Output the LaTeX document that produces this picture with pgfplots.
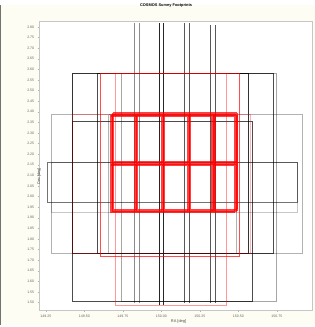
\documentclass[border=0pt]{standalone}
\usepackage{fontspec}
\setmainfont{Liberation Sans}
\usepackage{pgfplots}
\pgfplotsset{compat=1.18}
\definecolor{bgcream}{HTML}{FDFDF3}
\pgfplotsset{
 blk/.style={black, opacity=0.8, line width=0.8pt, no marks},
 gry/.style={black, opacity=0.3, line width=0.8pt, no marks},
 rd/.style={red, opacity=0.7, line width=0.8pt, no marks},
 grid/.style={red, opacity=0.75, line width=1.5pt, no marks},
}
\begin{document}
\begin{tikzpicture}
\fill[bgcream] (-40pt,-15pt) rectangle (282pt,312pt);
\fill[black!55] (-40pt,-15pt) rectangle (-38.8pt,312pt);
\begin{axis}[
 at={(0,0)}, anchor=south west, scale only axis, width=280pt, height=296pt,
 xmin=149.2059, xmax=150.9817, ymin=1.4637, ymax=2.8277,
 axis background/.style={fill=white},
 axis line style={gray!45, line width=0.4pt},
 xtick={149.25,149.50,149.75,150.00,150.25,150.50,150.75},
 ytick={1.50,1.55,1.60,1.65,1.70,1.75,1.80,1.85,1.90,1.95,2.00,2.05,2.10,2.15,2.20,2.25,2.30,2.35,2.40,2.45,2.50,2.55,2.60,2.65,2.70,2.75,2.80},
 xtick pos=bottom, ytick pos=left,
 tick align=outside, major tick length=1.5pt, tick style={gray!60, line width=0.3pt},
 tick label style={font=\fontsize{3.6}{4}\selectfont, text=black!60},
 xticklabel style={/pgf/number format/.cd, fixed, fixed zerofill, precision=2},
 yticklabel style={/pgf/number format/.cd, fixed, fixed zerofill, precision=2},
 /pgf/number format/assume math mode=true,
 title={COSMOS Survey Footprints},
 title style={font=\fontsize{4}{5}\selectfont\bfseries, at={(axis description cs:0.5,1)}, anchor=south, yshift=5pt, xshift=-10pt},
 xlabel={RA [deg]}, ylabel={Dec [deg]},
 label style={font=\fontsize{4}{5}\selectfont, text=black!70},
 xlabel style={at={(axis description cs:0.51,0)}, anchor=center, yshift=-12pt},
 ylabel style={at={(axis description cs:0,0.524)}, anchor=center, xshift=-18pt},
 unbounded coords=jump,
]
% wide gray footprints
\addplot[gry] coordinates {(149.2857,2.3868)(150.4863,2.3868)(150.4863,1.7340)(149.2857,1.7340)(149.2857,2.3868)};
\addplot[gry] coordinates {(149.6572,2.3868)(150.9166,2.3868)(150.9166,1.7340)(149.6572,1.7340)(149.6572,2.3868)};
\addplot[black, opacity=0.55, line width=0.8pt] coordinates {(149.2584,2.1610)(150.8851,2.1610)(150.8851,1.9721)(149.2584,1.9721)(149.2584,2.1610)};
\addplot[black, opacity=0.22, line width=0.8pt] coordinates {(149.2857,2.1610)(150.8851,2.1610)(150.8851,1.9260)(149.2857,1.9260)(149.2857,2.1610)};
% large black footprints
\addplot[blk] coordinates {(149.4221,2.5819)(150.5661,2.5819)(150.5661,1.7340)(149.4221,1.7340)(149.4221,2.5819)};
\addplot[blk, opacity=0.7] coordinates {(149.4221,2.3561)(150.5912,2.3561)(150.5912,1.5036)(149.4221,1.5036)(149.4221,2.3561)};
\addplot[blk, opacity=0.7] coordinates {(149.5837,2.5819)(150.7277,2.5819)(150.7277,1.7340)(149.5837,1.7340)(149.5837,2.5819)};
\addplot[blk, opacity=0.35] coordinates {(149.7411,2.5819)(150.7487,2.5819)(150.7487,1.5036)(149.7411,1.5036)(149.7411,2.5819)};
% tall narrow stripes (long edges)
\addplot[blk, opacity=0.45] table {
x y
149.8251 2.8169
149.8251 1.4959
nan nan
149.8566 2.8169
149.8566 1.4959
};
\addplot[blk, opacity=0.85] table {
x y
149.9867 2.8169
149.9867 1.4883
nan nan
150.0140 2.8169
150.0140 1.4883
};
\addplot[blk, opacity=0.65] table {
x y
150.1505 2.8169
150.1505 1.4959
nan nan
150.1819 2.8169
150.1819 1.4959
};
\addplot[blk, opacity=0.65] table {
x y
150.3184 2.8092
150.3184 1.4959
nan nan
150.3499 2.8092
150.3499 1.4959
};
% red footprints
\addplot[rd, opacity=0.3] coordinates {(149.4221,2.3868)(150.5807,2.3868)(150.5807,1.7340)(149.4221,1.7340)(149.4221,2.3868)};
\addplot[rd, opacity=0.4] coordinates {(149.6992,2.5819)(150.4233,2.5819)(150.4233,1.4883)(149.6992,1.4883)(149.6992,2.5819)};
\addplot[rd] coordinates {(149.6047,2.5819)(150.5073,2.5819)(150.5073,1.7187)(149.6047,1.7187)(149.6047,2.5819)};
% central red tiled grid (dithered)
\addplot[grid] table {
x y
149.678 2.387
150.486 2.387
nan nan
149.678 2.156
150.486 2.156
nan nan
149.678 1.934
150.486 1.934
nan nan
149.678 2.387
149.678 1.934
nan nan
149.836 2.387
149.836 1.934
nan nan
150.010 2.387
150.010 1.934
nan nan
150.178 2.387
150.178 1.934
nan nan
150.339 2.387
150.339 1.934
nan nan
150.486 2.387
150.486 1.934
};
\addplot[grid] table {
x y
149.686 2.393
150.494 2.393
nan nan
149.686 2.162
150.494 2.162
nan nan
149.686 1.940
150.494 1.940
nan nan
149.686 2.393
149.686 1.940
nan nan
149.844 2.393
149.844 1.940
nan nan
150.018 2.393
150.018 1.940
nan nan
150.186 2.393
150.186 1.940
nan nan
150.347 2.393
150.347 1.940
nan nan
150.494 2.393
150.494 1.940
};
\addplot[grid] table {
x y
149.668 2.379
150.476 2.379
nan nan
149.668 2.148
150.476 2.148
nan nan
149.668 1.926
150.476 1.926
nan nan
149.668 2.379
149.668 1.926
nan nan
149.826 2.379
149.826 1.926
nan nan
150.000 2.379
150.000 1.926
nan nan
150.168 2.379
150.168 1.926
nan nan
150.329 2.379
150.329 1.926
nan nan
150.476 2.379
150.476 1.926
};
\addplot[grid] table {
x y
149.682 2.383
150.490 2.383
nan nan
149.682 2.152
150.490 2.152
nan nan
149.682 1.930
150.490 1.930
nan nan
149.682 2.383
149.682 1.930
nan nan
149.840 2.383
149.840 1.930
nan nan
150.014 2.383
150.014 1.930
nan nan
150.182 2.383
150.182 1.930
nan nan
150.343 2.383
150.343 1.930
nan nan
150.490 2.383
150.490 1.930
};
\end{axis}
\end{tikzpicture}
\end{document}
